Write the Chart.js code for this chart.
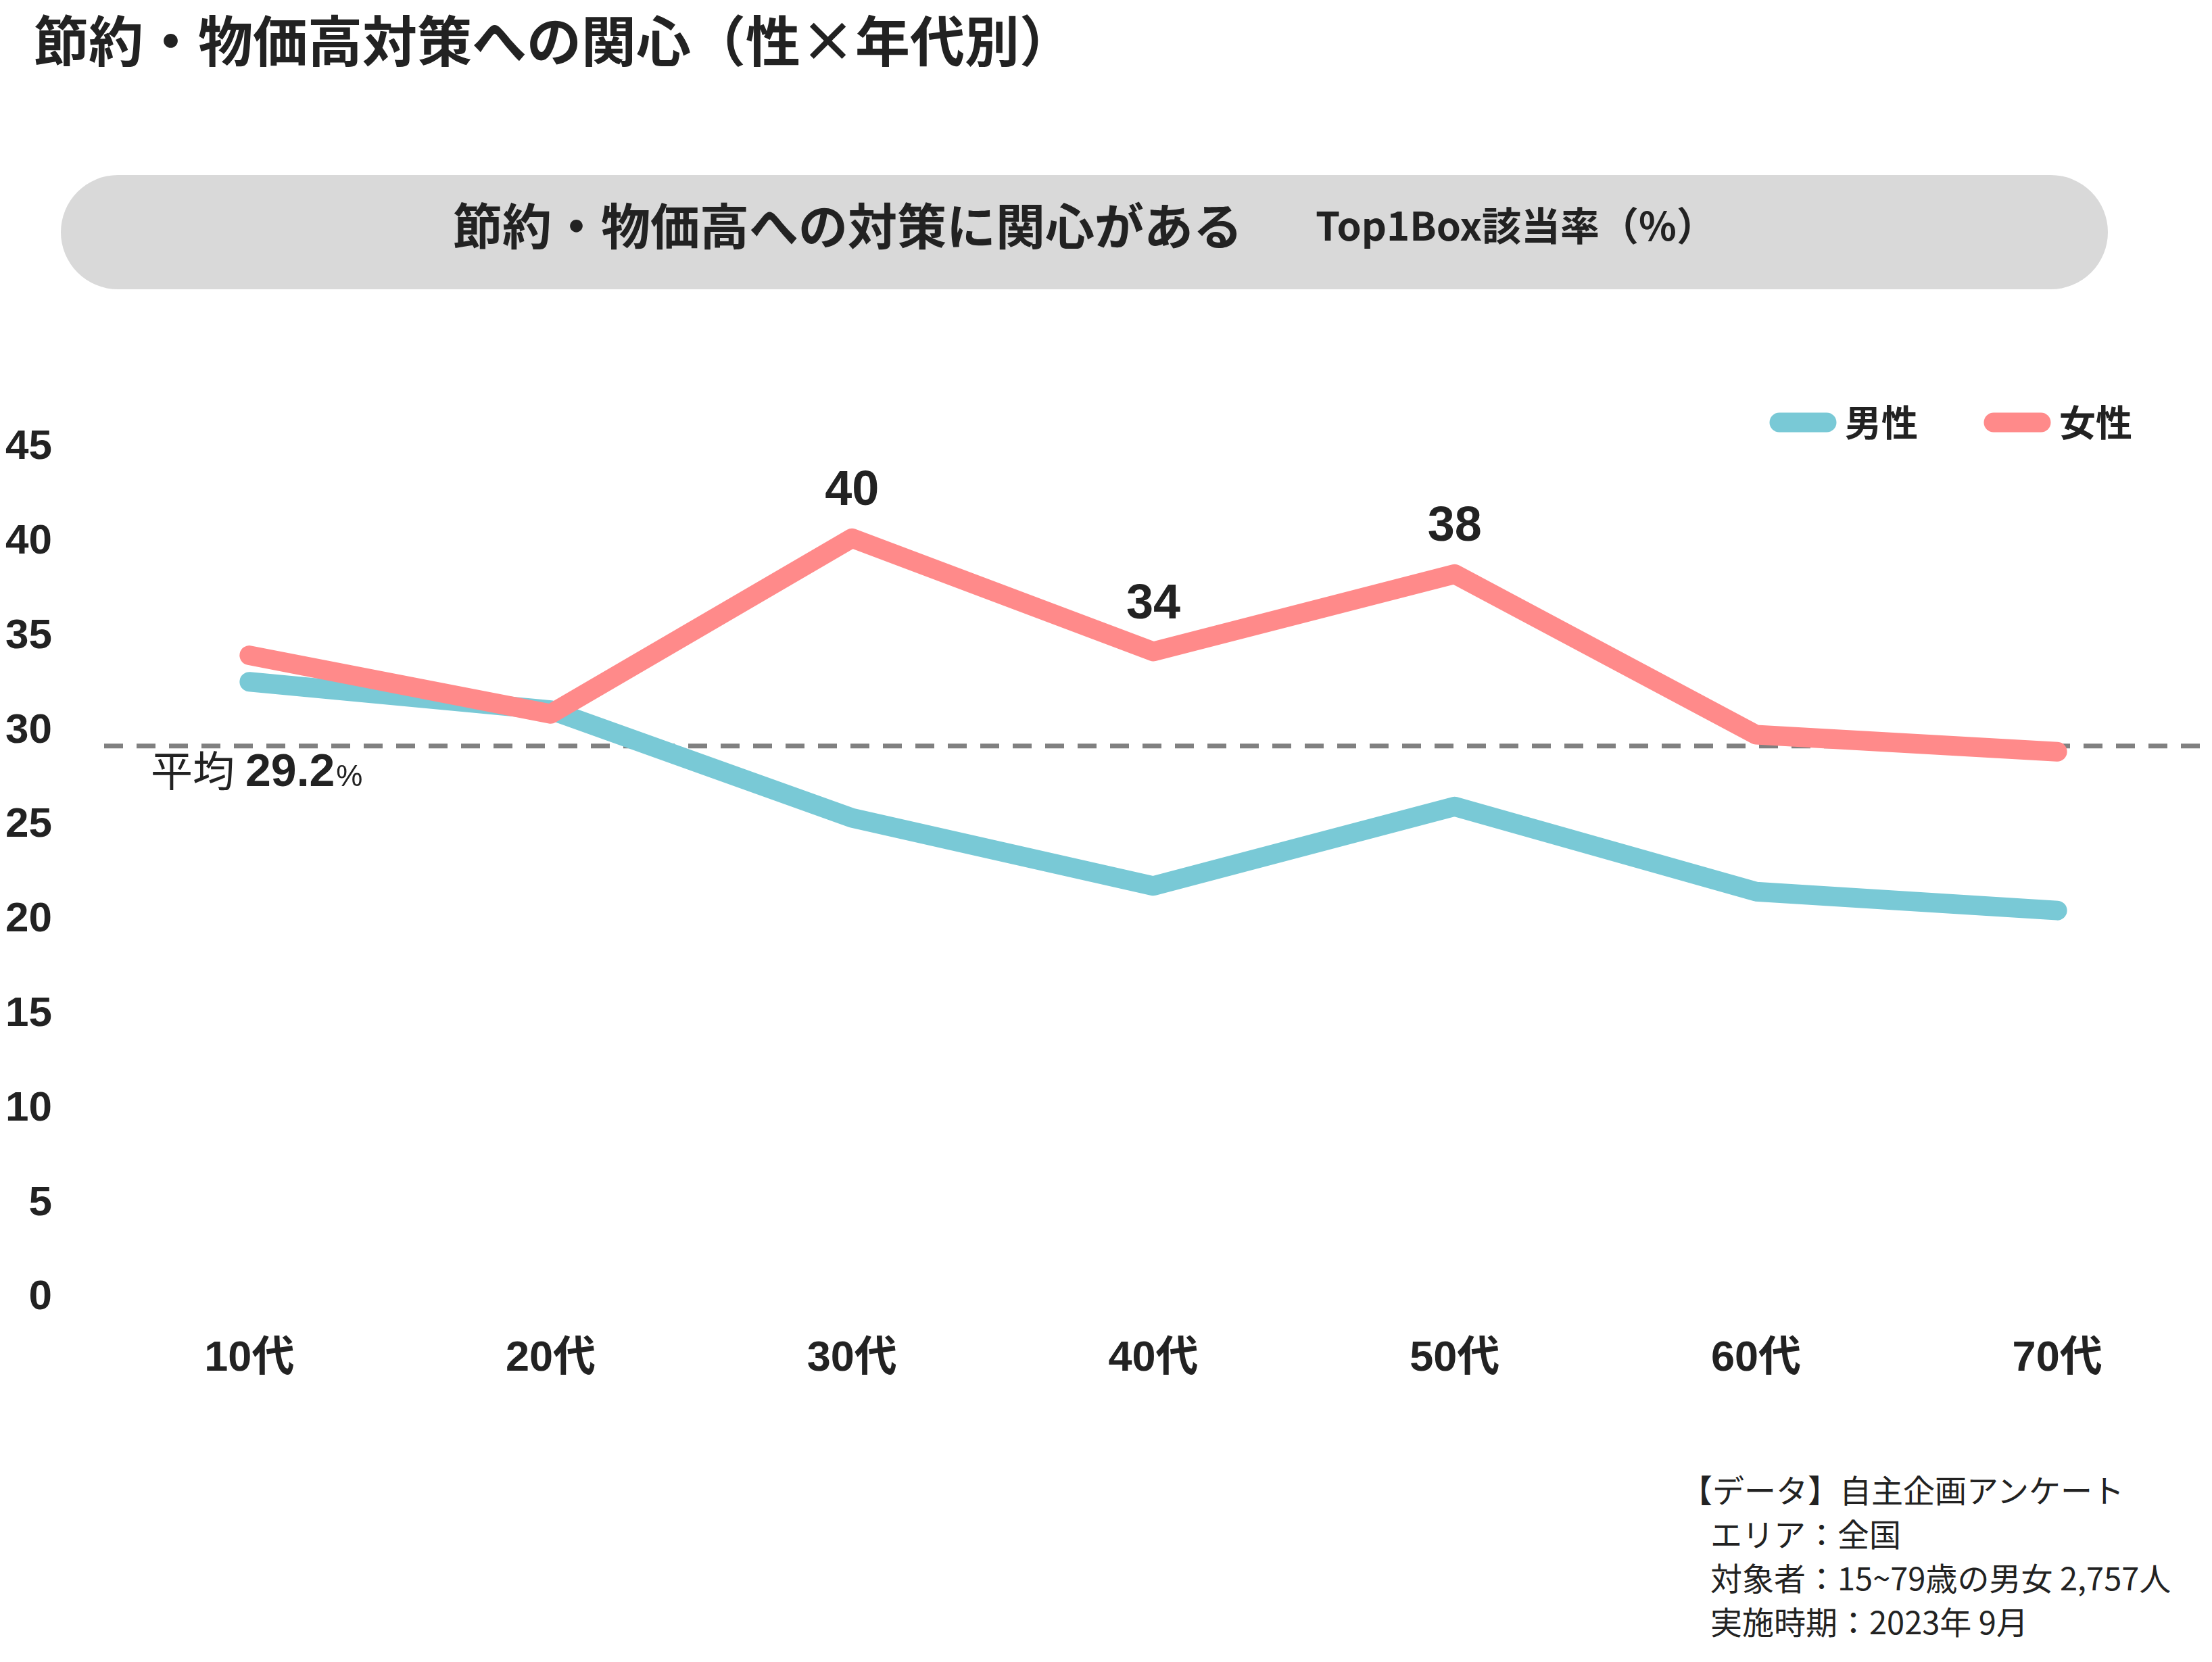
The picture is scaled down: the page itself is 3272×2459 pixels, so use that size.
<!DOCTYPE html>
<html lang="ja">
<head>
    <meta charset="UTF-8">
    <title>節約・物価高対策への関心（性×年代別）</title>
    <style>
        html, body {
            margin: 0;
            padding: 0;
            background: #ffffff;
        }

        body {
            width: 3272px;
            height: 2459px;
            position: relative;
            overflow: hidden;
            font-family: "Noto Sans CJK JP", sans-serif;
            color: #222222;
        }

        .page-title {
            position: absolute;
            left: 50px;
            top: 15px;
            font-size: 81px;
            font-weight: 700;
            line-height: 81px;
            white-space: nowrap;
        }

        .banner {
            position: absolute;
            left: 90px;
            top: 259px;
            width: 3028px;
            height: 169px;
            box-sizing: border-box;
            padding-bottom: 26px;
            border-radius: 85px;
            background: #d9d9d9;
            display: flex;
            justify-content: center;
            align-items: center;
            gap: 108px;
            line-height: 1;
            white-space: nowrap;
        }

        .banner .main { font-size: 73px; font-weight: 700; }
        .banner .sub { font-size: 58px; font-weight: 700; }

        #chartBox {
            position: absolute;
            left: 0;
            top: 486px;
        }

        .note {
            position: absolute;
            left: 2486px;
            top: 2170px;
            font-size: 47px;
            line-height: 65px;
            white-space: nowrap;
        }

        .note .indent { padding-left: 44px; }
    </style>
</head>
<body>
    <div class="page-title">節約・物価高対策への関心（性×年代別）</div>

    <div class="banner">
        <span class="main">節約・物価高への対策に関心がある</span>
        <span class="sub">Top1Box該当率（%）</span>
    </div>

    <div id="chartBox">
        <canvas id="chart" width="3272" height="1614"></canvas>
    </div>

    <div class="note">
        <div>【データ】自主企画アンケート</div>
        <div class="indent">エリア：全国</div>
        <div class="indent">対象者：15~79歳の男女 2,757人</div>
        <div class="indent">実施時期：2023年 9月</div>
    </div>

    <script src="https://cdn.jsdelivr.net/npm/chart.js"></script>
    <script>
        // chart data
        const categories = ['10代', '20代', '30代', '40代', '50代', '60代', '70代'];
        const maleValues = [32.6, 31.1, 25.4, 21.8, 26.0, 21.5, 20.5];
        const femaleValues = [34.0, 30.9, 40.2, 34.2, 38.3, 29.8, 28.9];
        const averageValue = 29.2;
        const labelledFemalePoints = [2, 3, 4];
        const yMin = 0;
        const yMax = 45;
        const yStep = 5;

        const latinFont = '"Liberation Sans", "Noto Sans CJK JP", sans-serif';
        const cjkFont = '"Noto Sans CJK JP", sans-serif';
        const textColor = '#222222';

        // dashed average line under the lines, labels on top
        const averageAndLabels = {
            id: 'averageAndLabels',
            beforeDatasetsDraw(chart) {
                const { ctx, chartArea, scales } = chart;
                const py = scales.y.getPixelForValue(averageValue);
                ctx.save();
                ctx.strokeStyle = '#808080';
                ctx.lineWidth = 7;
                ctx.setLineDash([28, 20]);
                ctx.beginPath();
                ctx.moveTo(chartArea.left + 8, py);
                ctx.lineTo(chart.width, py);
                ctx.stroke();
                ctx.restore();
            },
            afterDatasetsDraw(chart) {
                const { ctx, chartArea, scales } = chart;
                const py = scales.y.getPixelForValue(averageValue);

                // 平均 29.2%
                ctx.save();
                ctx.fillStyle = textColor;
                ctx.textBaseline = 'middle';
                ctx.textAlign = 'left';
                let x = chartArea.left + 77;
                const ty = py + 37;
                ctx.font = '400 62px ' + cjkFont;
                ctx.fillText('平均', x, ty);
                x += ctx.measureText('平均').width + 16;
                ctx.font = 'bold 68px ' + latinFont;
                ctx.fillText(averageValue.toFixed(1), x, ty + 3);
                x += ctx.measureText(averageValue.toFixed(1)).width + 2;
                ctx.font = '400 44px ' + latinFont;
                ctx.fillText('%', x, ty + 10);

                // value labels above selected female points
                const meta = chart.getDatasetMeta(1);
                ctx.font = 'bold 72px ' + latinFont;
                ctx.textAlign = 'center';
                labelledFemalePoints.forEach(i => {
                    const pt = meta.data[i];
                    ctx.fillText(String(Math.round(femaleValues[i])), pt.x, pt.y - 69);
                });
                ctx.restore();
            }
        };

        const ctx = document.getElementById('chart').getContext('2d');
        const chart = new Chart(ctx, {
            type: 'line',
            data: {
                labels: categories,
                datasets: [
                    {
                        label: '男性',
                        data: maleValues,
                        borderColor: '#79c9d6',
                        backgroundColor: '#79c9d6',
                        borderWidth: 29,
                        borderCapStyle: 'round',
                        borderJoinStyle: 'round',
                        pointRadius: 0,
                        pointHoverRadius: 0,
                        tension: 0,
                        order: 1
                    },
                    {
                        label: '女性',
                        data: femaleValues,
                        borderColor: '#ff8a8a',
                        backgroundColor: '#ff8a8a',
                        borderWidth: 29,
                        borderCapStyle: 'round',
                        borderJoinStyle: 'round',
                        pointRadius: 0,
                        pointHoverRadius: 0,
                        tension: 0,
                        order: 0
                    }
                ]
            },
            options: {
                responsive: false,
                animation: false,
                devicePixelRatio: 1,
                layout: { padding: { left: 0, right: 6, top: 0, bottom: 0 } },
                plugins: {
                    tooltip: { enabled: false },
                    legend: {
                        position: 'top',
                        align: 'end',
                        reverse: true,
                        labels: {
                            usePointStyle: true,
                            pointStyle: 'line',
                            pointStyleWidth: 70,
                            padding: 112,
                            color: textColor,
                            font: { family: cjkFont, size: 54, weight: 'bold' },
                            generateLabels(chart) {
                                const items = Chart.defaults.plugins.legend.labels.generateLabels(chart);
                                items.forEach(item => {
                                    const ds = chart.data.datasets[item.datasetIndex];
                                    item.lineCap = 'round';
                                    item.lineWidth = ds.borderWidth;
                                    item.strokeStyle = ds.borderColor;
                                });
                                return items;
                            }
                        }
                    }
                },
                scales: {
                    x: {
                        offset: true,
                        grid: { display: false, drawTicks: false },
                        border: { display: false },
                        ticks: {
                            padding: 52,
                            color: textColor,
                            font: { family: latinFont, size: 63, weight: 'bold' }
                        }
                    },
                    y: {
                        min: yMin,
                        max: yMax,
                        grid: { display: false, drawTicks: false },
                        border: { display: false },
                        ticks: {
                            stepSize: yStep,
                            padding: 69,
                            color: textColor,
                            font: { family: latinFont, size: 62, weight: 'bold' }
                        },
                        afterFit(scale) {
                            scale.width = 146;
                        }
                    }
                }
            },
            plugins: [averageAndLabels]
        });
    </script>
</body>
</html>
